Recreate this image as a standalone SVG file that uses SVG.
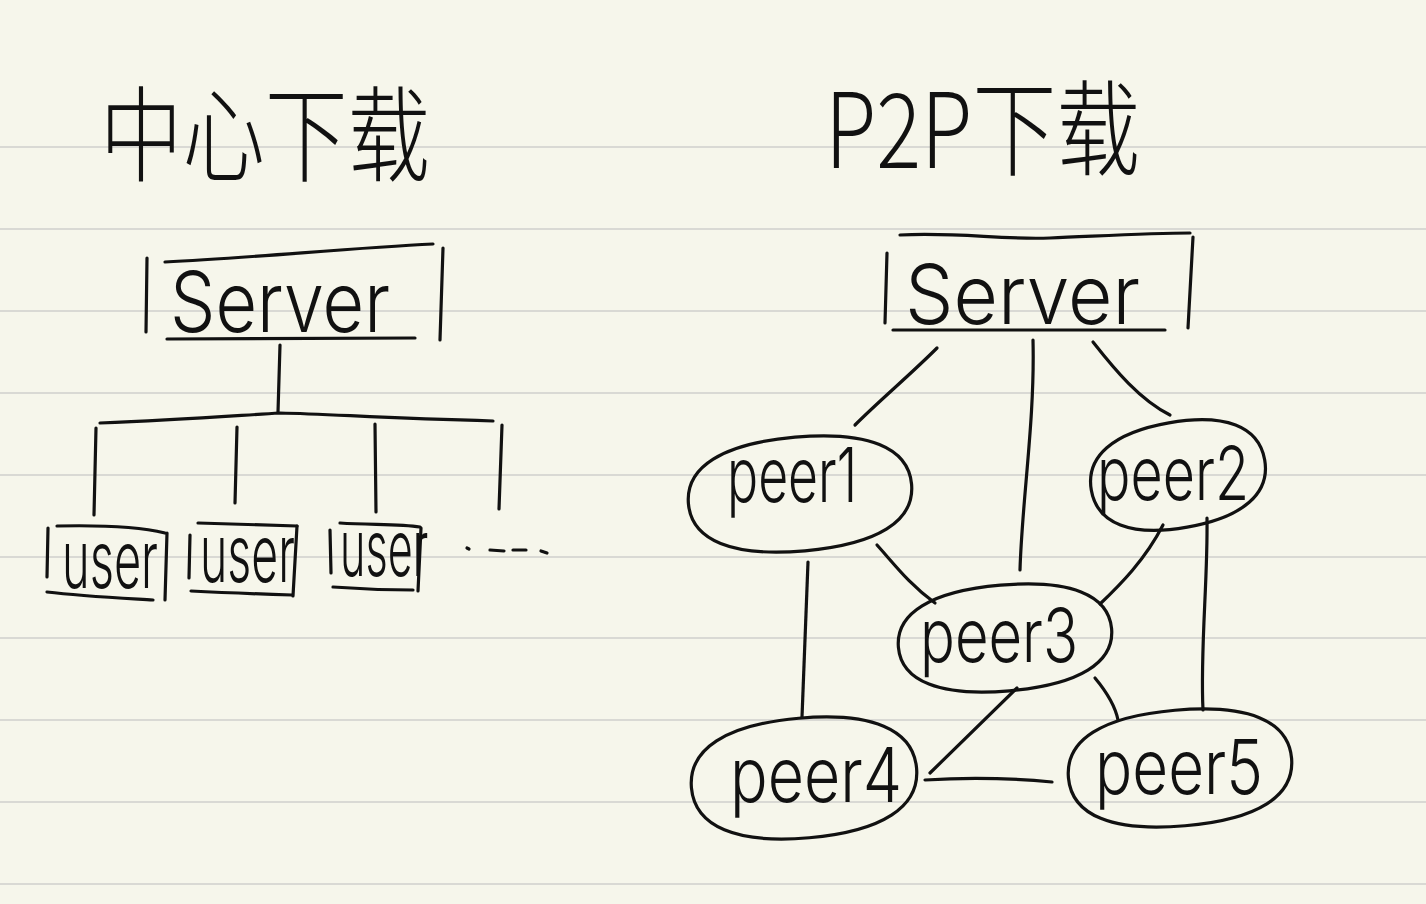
<svg xmlns="http://www.w3.org/2000/svg" width="1426" height="904" viewBox="0 0 1426 904">
  <style>
    .rule { stroke: #d9d9d4; stroke-width: 2; fill: none; }
    .ink { stroke: #111; stroke-width: 3.2; fill: none; stroke-linecap: round; stroke-linejoin: round; }
    .lbl { fill: #111; font-family: Inter, "Noto Sans", "Liberation Sans", sans-serif; font-weight: 300; }
    .cjk { fill: #111; font-family: "Noto Sans CJK SC", "Noto Sans CJK JP", sans-serif; font-weight: 300; }
  </style>
  <rect x="0" y="0" width="1426" height="904" fill="#f6f6eb"/>
  <g id="ruled-lines">
    <line class="rule" x1="0" y1="147" x2="1426" y2="147"/>
    <line class="rule" x1="0" y1="229" x2="1426" y2="229"/>
    <line class="rule" x1="0" y1="311" x2="1426" y2="311"/>
    <line class="rule" x1="0" y1="393" x2="1426" y2="393"/>
    <line class="rule" x1="0" y1="475" x2="1426" y2="475"/>
    <line class="rule" x1="0" y1="557" x2="1426" y2="557"/>
    <line class="rule" x1="0" y1="638" x2="1426" y2="638"/>
    <line class="rule" x1="0" y1="720" x2="1426" y2="720"/>
    <line class="rule" x1="0" y1="802" x2="1426" y2="802"/>
    <line class="rule" x1="0" y1="884" x2="1426" y2="884"/>
  </g>

  <g id="title-central">
    <text class="cjk" x="100" y="174" font-size="104" textLength="330" lengthAdjust="spacingAndGlyphs">中心下载</text>
  </g>
  <g id="title-p2p">
    <text class="cjk" x="825" y="168" font-size="104" textLength="315" lengthAdjust="spacingAndGlyphs">P2P下载</text>
  </g>

  <g id="connectors">
    <!-- left tree -->
    <path class="ink" d="M280,345 L278,412"/>
    <path class="ink" d="M100,423 C180,420 230,416 280,413 C330,414 380,418 493,421"/>
    <path class="ink" d="M96,428 L94,515"/>
    <path class="ink" d="M237,427 L235,503"/>
    <path class="ink" d="M375,424 L376,512"/>
    <path class="ink" d="M502,425 L499,509"/>
    <!-- right mesh -->
    <path class="ink" d="M937,348 C910,375 880,400 855,425"/>
    <path class="ink" d="M1033,340 C1035,420 1022,500 1020,570"/>
    <path class="ink" d="M1093,342 C1115,370 1140,400 1170,415"/>
    <path class="ink" d="M808,562 L802,717"/>
    <path class="ink" d="M877,545 C895,565 910,585 935,603"/>
    <path class="ink" d="M1163,525 C1145,560 1120,585 1100,604"/>
    <path class="ink" d="M1207,518 C1208,580 1200,650 1203,710"/>
    <path class="ink" d="M1017,688 L930,773"/>
    <path class="ink" d="M1095,678 C1105,690 1115,705 1118,720"/>
    <path class="ink" d="M925,780 C970,777 1010,778 1052,782"/>
  </g>

  <g id="server-left">
    <path class="ink" d="M147,258 L146,332"/>
    <path class="ink" d="M165,262 C250,258 350,248 433,244"/>
    <path class="ink" d="M443,248 L440,340"/>
    <path class="ink" d="M167,339 L415,338"/>
    <text class="lbl" x="170" y="332" font-size="84" textLength="220" lengthAdjust="spacingAndGlyphs">Server</text>
  </g>

  <g id="user-1">
    <path class="ink" d="M48,528 L47,577"/>
    <path class="ink" d="M57,526 C100,525 140,527 165,533"/>
    <path class="ink" d="M167,533 L165,600"/>
    <path class="ink" d="M47,592 C80,596 120,598 153,600"/>
    <text class="lbl" transform="translate(62,588) scale(0.6,1)" x="0" y="0" font-size="80" textLength="160" lengthAdjust="spacingAndGlyphs">user</text>
  </g>
  <g id="user-2">
    <path class="ink" d="M190,535 L189,578"/>
    <path class="ink" d="M198,523 C240,524 270,525 297,526"/>
    <path class="ink" d="M297,526 L293,596"/>
    <path class="ink" d="M191,591 C230,593 260,594 292,595"/>
    <text class="lbl" transform="translate(200,582) scale(0.6,1)" x="0" y="0" font-size="80" textLength="158" lengthAdjust="spacingAndGlyphs">user</text>
  </g>
  <g id="user-3">
    <path class="ink" d="M330,530 L331,573"/>
    <path class="ink" d="M340,523 C370,525 400,524 420,527"/>
    <path class="ink" d="M421,528 L418,591"/>
    <path class="ink" d="M333,587 C360,589 390,590 413,590"/>
    <text class="lbl" transform="translate(340,576) scale(0.6,1)" x="0" y="0" font-size="78" textLength="147" lengthAdjust="spacingAndGlyphs">user</text>
  </g>
  <g id="more-users">
    <path class="ink" d="M467,548 L469,549"/>
    <path class="ink" d="M490,550 L504,551"/>
    <path class="ink" d="M513,550 L526,550"/>
    <path class="ink" d="M541,551 L547,553"/>
  </g>

  <g id="server-right">
    <path class="ink" d="M900,235 C960,232 1000,240 1050,238 C1100,236 1150,233 1190,233"/>
    <path class="ink" d="M887,253 L885,323"/>
    <path class="ink" d="M1193,237 L1188,328"/>
    <path class="ink" d="M893,330 L1165,330"/>
    <text class="lbl" x="905" y="324" font-size="82" textLength="235" lengthAdjust="spacingAndGlyphs">Server</text>
  </g>

  <g id="peer1">
    <path class="ink" transform="rotate(-5 800 494)" d="M688,494 C688,457 727,437 800,437 C873,437 912,457 912,494 C912,531 873,551 800,551 C727,551 688,531 688,494 Z"/>
    <text class="lbl" x="727" y="502" font-size="76" textLength="130" lengthAdjust="spacingAndGlyphs">peer1</text>
  </g>
  <g id="peer2">
    <path class="ink" transform="rotate(-10 1178 475)" d="M1090,475 C1090,441 1121,422 1178,422 C1235,422 1266,441 1266,475 C1266,509 1235,528 1178,528 C1121,528 1090,509 1090,475 Z"/>
    <text class="lbl" x="1097" y="500" font-size="74" textLength="152" lengthAdjust="spacingAndGlyphs">peer2</text>
  </g>
  <g id="peer3">
    <path class="ink" transform="rotate(-5 1005 638)" d="M898,638 C898,604 935,585 1005,585 C1075,585 1112,604 1112,638 C1112,672 1075,691 1005,691 C935,691 898,672 898,638 Z"/>
    <text class="lbl" x="920" y="662" font-size="74" textLength="158" lengthAdjust="spacingAndGlyphs">peer3</text>
  </g>
  <g id="peer4">
    <path class="ink" transform="rotate(-5 804 778)" d="M691,778 C691,739 731,718 804,718 C877,718 917,739 917,778 C917,817 877,838 804,838 C731,838 691,817 691,778 Z"/>
    <text class="lbl" x="730" y="802" font-size="76" textLength="172" lengthAdjust="spacingAndGlyphs">peer4</text>
  </g>
  <g id="peer5">
    <path class="ink" transform="rotate(-5 1180 768)" d="M1068,768 C1068,730 1107,710 1180,710 C1253,710 1292,730 1292,768 C1292,806 1253,826 1180,826 C1107,826 1068,806 1068,768 Z"/>
    <text class="lbl" x="1095" y="794" font-size="76" textLength="168" lengthAdjust="spacingAndGlyphs">peer5</text>
  </g>
</svg>
